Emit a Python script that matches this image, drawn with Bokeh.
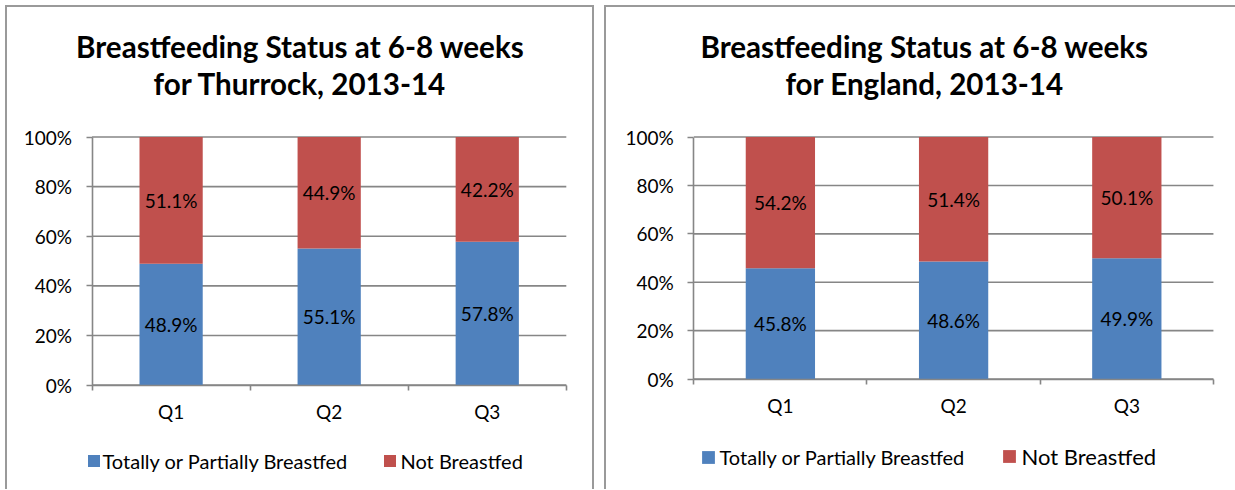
from bokeh.plotting import figure
from bokeh.layouts import row
from bokeh.models import (ColumnDataSource, FixedTicker, Legend, LegendItem, Label,
                          Range1d, PrintfTickFormatter)
from bokeh.embed import file_html
from bokeh.resources import INLINE
from bokeh.core.properties import value

# ---------------- data ----------------
categories = ["Q1", "Q2", "Q3"]
thurrock_breastfed = [48.9, 55.1, 57.8]
thurrock_not_breastfed = [51.1, 44.9, 42.2]
england_breastfed = [45.8, 48.6, 49.9]
england_not_breastfed = [54.2, 51.4, 50.1]
y_ticks = [0, 20, 40, 60, 80, 100]
title_thurrock = ["Breastfeeding Status at 6-8 weeks", "for Thurrock, 2013-14"]
title_england = ["Breastfeeding Status at 6-8 weeks", "for England, 2013-14"]
series_names = ["Totally or Partially Breastfed", "Not Breastfed"]

BLUE = "#4F81BD"
RED = "#C0504D"
GRID = "#868686"
FONT = "Lato"


def make_panel(title_lines, bf, nbf, canvas_w, canvas_h, plot_box, legend_specs,
               css_w, css_h, styles):
    """plot_box = (left, right, top, bottom) of the 0..n x 0..100 area, in canvas pixels."""
    n = len(categories)
    L, R, T, B = plot_box
    sx = (R - L) / n            # px per category
    sy = (B - T) / 100.0        # px per percent
    x_range = Range1d(-L / sx, n + (canvas_w - R) / sx)
    y_range = Range1d(-(canvas_h - B) / sy, 100 + T / sy)

    xs = [i + 0.5 for i in range(n)]
    total = [a + b for a, b in zip(bf, nbf)]
    src = ColumnDataSource(dict(
        x=xs, bf=bf, nbf=nbf, total=total,
        bf_mid=[a / 2 for a in bf],
        nbf_mid=[a + b / 2 for a, b in zip(bf, nbf)],
        bf_lab=["%.1f%%" % v for v in bf],
        nbf_lab=["%.1f%%" % v for v in nbf],
    ))
    p = figure(width=css_w, height=css_h, output_backend="svg", toolbar_location=None,
               tools="", x_range=x_range, y_range=y_range,
               min_border_left=0, min_border_right=0, min_border_top=0, min_border_bottom=0,
               styles=styles)
    p.outline_line_color = None
    p.background_fill_color = "white"
    p.border_fill_color = "white"
    p.xgrid.visible = False
    p.ygrid.visible = False

    # horizontal gridlines across the category span
    p.segment(x0=[0] * len(y_ticks), x1=[n] * len(y_ticks), y0=y_ticks, y1=y_ticks,
              line_color=GRID, line_width=1.6)

    r_bf = p.vbar(x="x", width=0.4, bottom=0, top="bf", source=src,
                  fill_color=BLUE, line_color=None)
    r_nbf = p.vbar(x="x", width=0.4, bottom="bf", top="total", source=src,
                   fill_color=RED, line_color=None)

    for col_y, col_t in (("bf_mid", "bf_lab"), ("nbf_mid", "nbf_lab")):
        p.text(x="x", y=col_y, text=col_t, source=src, text_align="center",
               text_baseline="middle", text_font=value(FONT), text_font_size="19px",
               text_color="#000000")

    # y axis at x = 0
    yax = p.yaxis[0]
    yax.fixed_location = 0
    yax.bounds = (0, 100)
    yax.ticker = FixedTicker(ticks=y_ticks)
    yax.formatter = PrintfTickFormatter(format="%d%%")
    yax.axis_line_color = GRID
    yax.axis_line_width = 1.6
    yax.major_tick_line_color = GRID
    yax.major_tick_line_width = 1.6
    yax.major_tick_out = 6
    yax.major_tick_in = 0
    yax.minor_tick_line_color = None
    yax.major_label_standoff = 14
    yax.major_label_text_font = FONT
    yax.major_label_text_font_size = "19px"
    yax.major_label_text_color = "#000000"

    # x axis at y = 0: labels at centres, ticks at category boundaries
    xax = p.xaxis[0]
    xax.fixed_location = 0
    xax.bounds = (0, n)
    xax.ticker = FixedTicker(ticks=xs, minor_ticks=list(range(n + 1)))
    xax.major_label_overrides = {x: c for x, c in zip(xs, categories)}
    xax.axis_line_color = GRID
    xax.axis_line_width = 1.6
    xax.major_tick_line_color = None
    xax.major_tick_out = 0
    xax.major_tick_in = 0
    xax.minor_tick_line_color = GRID
    xax.minor_tick_line_width = 1.6
    xax.minor_tick_out = 5
    xax.minor_tick_in = 0
    xax.major_label_standoff = 10
    xax.major_label_text_font = FONT
    xax.major_label_text_font_size = "19px"
    xax.major_label_text_color = "#000000"

    # two-line title, centred 29px left of plot centre
    for line, base in zip(title_lines, (39, 76)):
        p.add_layout(Label(x=n / 2, y=100 + (T - base) / sy, x_offset=-29, text=line,
                           text_align="center", text_baseline="alphabetic",
                           text_font=FONT, text_font_style="bold",
                           text_font_size="29.6px", text_color="#000000"))

    # legends (one per series, positioned individually inside the canvas)
    renderers = [r_bf, r_nbf]
    for name, rend, spec in zip(series_names, renderers, legend_specs):
        loc, gsize, standoff, fsize = spec
        leg = Legend(items=[LegendItem(label=name, renderers=[rend])], location=loc,
                     orientation="horizontal", padding=0, margin=0,
                     border_line_color=None, background_fill_alpha=0,
                     glyph_width=gsize, glyph_height=gsize, label_standoff=standoff,
                     label_text_font=FONT, label_text_font_size=fsize,
                     label_text_color="#000000", label_height=gsize)
        p.add_layout(leg)
    return p


BORDER = "2px solid #9a9a9a"
# left panel canvas spans page x 7..592, y 7..489
p1 = make_panel(title_thurrock, thurrock_breastfed, thurrock_not_breastfed,
                canvas_w=585, canvas_h=482, plot_box=(84, 555, 129, 376),
                legend_specs=[((78.5, 18.5), 15, 2, "20px"), ((374.5, 18.5), 15, 4, "20px")],
                css_w=589, css_h=484,
                styles={"border-top": BORDER, "border-left": BORDER, "border-right": BORDER})
# right panel canvas spans page x 606..1235, y 7..489
p2 = make_panel(title_england, england_breastfed, england_not_breastfed,
                canvas_w=629, canvas_h=482, plot_box=(87, 605, 129, 370),
                legend_specs=[((93.5, 22.2), 16, 4, "20px"), ((394.5, 21.2), 16, 5, "22px")],
                css_w=631, css_h=484,
                styles={"border-top": BORDER, "border-left": BORDER})

layout = row(p1, p2, spacing=10, margin=(5, 0, 0, 5))
open("out.html", "w").write(file_html(layout, INLINE))
